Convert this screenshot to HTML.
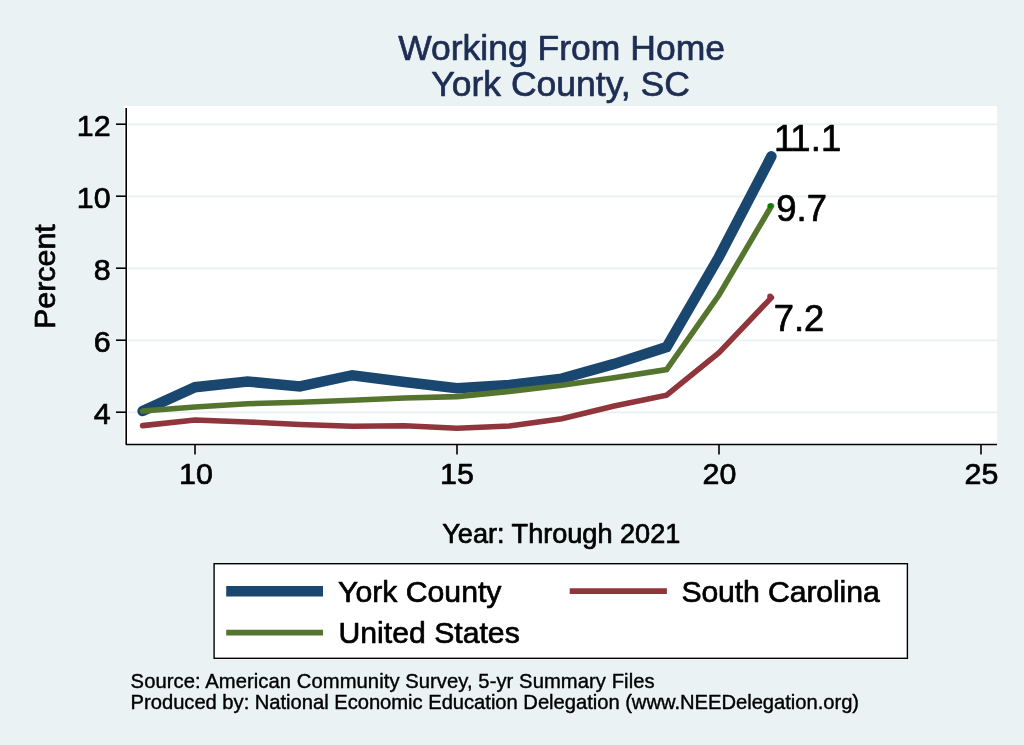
<!DOCTYPE html>
<html><head><meta charset="utf-8"><title>Working From Home</title>
<style>
html,body{margin:0;padding:0;background:#eaf2f3;}
svg{display:block;font-family:"Liberation Sans",sans-serif;}
text{stroke:#000;stroke-width:0.7px;stroke-linejoin:round;}
.t text{stroke:#1e2d53;stroke-width:0.7px;}
.n text{stroke-width:0.4px;}
</style></head><body>
<svg width="1024" height="745" viewBox="0 0 1024 745">
<rect x="0" y="0" width="1024" height="745" fill="#eaf2f3"/>
<rect x="124" y="106" width="873" height="339" fill="#ffffff"/>
<g stroke="#e8f0f2" stroke-width="1.8">
<line x1="128" x2="997" y1="124.3" y2="124.3"/>
<line x1="128" x2="997" y1="196.3" y2="196.3"/>
<line x1="128" x2="997" y1="268.3" y2="268.3"/>
<line x1="128" x2="997" y1="340.3" y2="340.3"/>
<line x1="128" x2="997" y1="412.3" y2="412.3"/>
</g>
<g fill="none" stroke-linejoin="miter" stroke-linecap="round">
<polyline stroke="#1a476f" stroke-width="10.5" points="142.6,411.0 195.0,387.2 247.4,381.5 299.8,386.5 352.2,375.2 404.6,382.0 457.0,388.2 509.4,385.0 561.8,378.6 614.2,363.9 666.6,347.1 719.0,256.8 771.4,156.3"/>
<polyline stroke="#90353b" stroke-width="5.6" points="142.6,425.6 195.0,420.0 247.4,422.0 299.8,424.5 352.2,426.3 404.6,425.8 457.0,428.2 509.4,426.0 561.8,418.8 614.2,406.1 666.6,395.2 719.0,352.6 771.4,297.6"/>
<polyline stroke="#55752f" stroke-width="5.6" points="142.6,411.0 195.0,407.0 247.4,403.7 299.8,402.3 352.2,400.3 404.6,398.0 457.0,396.6 509.4,391.4 561.8,385.2 614.2,377.8 666.6,369.6 719.0,295.0 771.4,206.0"/>
</g>
<circle cx="770.0" cy="205.8" r="2.6" fill="#008000"/>
<circle cx="770.1" cy="296.4" r="2.9" fill="#90353b"/>
<g stroke="#000" stroke-width="1.6" fill="none">
<path d="M126.2,108 V444.5 H997" stroke-linejoin="round"/>
<line x1="116" x2="126" y1="124.2" y2="124.2"/>
<line x1="116" x2="126" y1="196.2" y2="196.2"/>
<line x1="116" x2="126" y1="268.2" y2="268.2"/>
<line x1="116" x2="126" y1="340.2" y2="340.2"/>
<line x1="116" x2="126" y1="412.2" y2="412.2"/>
<line x1="195" x2="195" y1="444.5" y2="454.5"/>
<line x1="457" x2="457" y1="444.5" y2="454.5"/>
<line x1="719" x2="719" y1="444.5" y2="454.5"/>
<line x1="981" x2="981" y1="444.5" y2="454.5"/>
</g>
<g fill="#000" font-size="30.4px" text-anchor="end">
<text x="110.6" y="136.0">12</text>
<text x="110.6" y="208.0">10</text>
<text x="110.6" y="280.0">8</text>
<text x="110.6" y="352.0">6</text>
<text x="110.6" y="424.0">4</text>
</g>
<g fill="#000" font-size="30.4px" text-anchor="middle">
<text x="196" y="483.5">10</text>
<text x="457" y="483.5">15</text>
<text x="719.5" y="483.5">20</text>
<text x="981.5" y="483.5">25</text>
</g>
<g fill="#000" font-size="36.4px">
<text x="773.9 790.2 810.7 821.0" y="151">11.1</text>
<text x="776.3" y="221.2">9.7</text>
<text x="773.7" y="331">7.2</text>
</g>
<text transform="translate(54.5,276.6) rotate(-90)" text-anchor="middle" font-size="30.4px" fill="#000">Percent</text>
<text x="561.3" y="543.3" text-anchor="middle" font-size="27.1px" fill="#000">Year: Through 2021</text>
<g class="t" fill="#1e2d53" font-size="35.5px" text-anchor="middle">
<text x="561.6" y="59.7">Working From Home</text>
<text x="560.6" y="95.7">York County, SC</text>
</g>
<rect x="214.1" y="563.7" width="693.3" height="94.6" fill="#fff" stroke="#000" stroke-width="1.4"/>
<line x1="226.2" x2="323" y1="591.2" y2="591.2" stroke="#1a476f" stroke-width="10.5"/>
<line x1="226.2" x2="323" y1="632.6" y2="632.6" stroke="#55752f" stroke-width="5.8"/>
<line x1="569.7" x2="666.9" y1="591.2" y2="591.2" stroke="#90353b" stroke-width="5.8"/>
<g fill="#000" font-size="30.2px">
<text x="338.1" y="602.3">York County</text>
<text x="338.5" y="643.3">United States</text>
<text x="681.4" y="602.3" textLength="198.3">South Carolina</text>
</g>
<g class="n" fill="#000" font-size="20.2px">
<text x="130.6" y="687.8" textLength="524">Source: American Community Survey, 5-yr Summary Files</text>
<text x="130.6" y="708.5" textLength="728.5">Produced by: National Economic Education Delegation (www.NEEDelegation.org)</text>
</g>
</svg>
</body></html>
